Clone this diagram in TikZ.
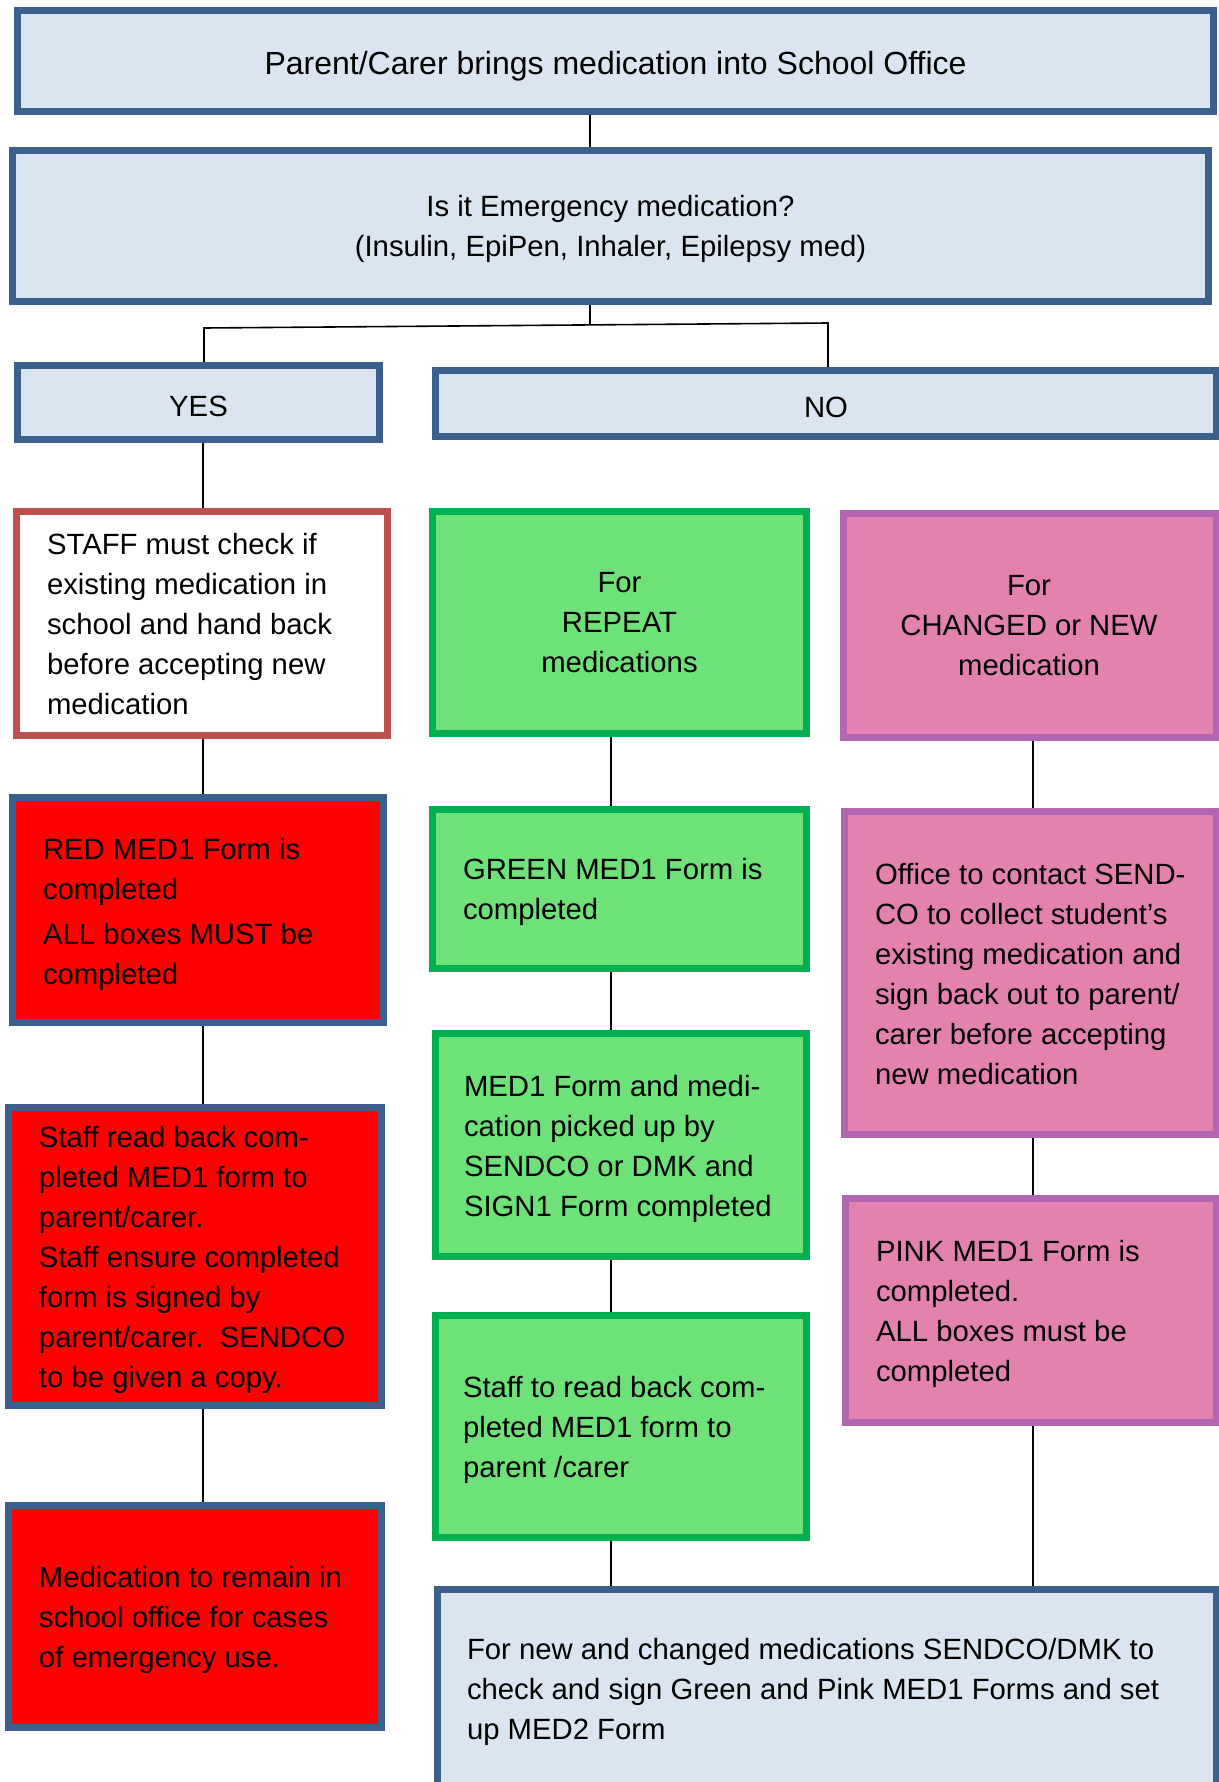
\documentclass[tikz,border=0pt]{standalone}
\usepackage{fontspec}
\setmainfont{Liberation Sans}
\usetikzlibrary{backgrounds}
\definecolor{bbord}{HTML}{3C608E}
\definecolor{bfill}{HTML}{DBE5F1}
\definecolor{gbord}{HTML}{00B050}
\definecolor{gfill}{HTML}{6EE278}
\definecolor{pbord}{HTML}{B266B2}
\definecolor{pfill}{HTML}{E482AF}
\definecolor{rbord}{HTML}{C0504D}
\definecolor{rfill}{HTML}{FF0000}
\begin{document}
\begin{tikzpicture}[x=0.5pt,y=-0.5pt,
  bx/.style={draw, line width=3.5pt, inner sep=0pt, outer sep=0pt},
  bluebox/.style={bx, draw=bbord, fill=bfill},
  greenbox/.style={bx, draw=gbord, fill=gfill},
  pinkbox/.style={bx, draw=pbord, fill=pfill},
  redbox/.style={bx, draw=bbord, fill=rfill},
  staffbox/.style={bx, draw=rbord, fill=white},
  tx/.style={inner sep=0pt, outer sep=0pt, text=black, yshift=-3pt, font=\fontsize{14.65pt}{20pt}\selectfont,
    execute at begin node=\strut, execute at end node=\strut},
  txl/.style={tx, align=left, anchor=west},
  txc/.style={tx, align=center},
  conn/.style={draw=black, line width=0.8pt}]
\path[use as bounding box] (0,0) rectangle (1219,1782);
\clip (0,0) rectangle (1219,1782);

% boxes
\node[bluebox, minimum width=598pt, minimum height=50.5pt] (b1) at (615.5,61) {};
\node[bluebox, minimum width=598pt, minimum height=75.5pt] (b2) at (610.5,226) {};
\node[bluebox, minimum width=181pt, minimum height=37pt] (yes) at (198.5,402.5) {};
\node[bluebox, minimum width=390.5pt, minimum height=33pt] (no) at (826,403.5) {};
\node[staffbox, minimum width=185.5pt, minimum height=112pt] (staff) at (202,623.5) {};
\node[greenbox, minimum width=187pt, minimum height=111pt] (rep) at (619.5,622.5) {};
\node[pinkbox, minimum width=186.5pt, minimum height=112pt] (chg) at (1030,625.5) {};
\node[redbox, minimum width=185.5pt, minimum height=112.5pt] (red1) at (198,910) {};
\node[greenbox, minimum width=187pt, minimum height=79.5pt] (grn) at (619.5,889) {};
\node[pinkbox, minimum width=186pt, minimum height=161.5pt] (off) at (1030.5,973) {};
\node[redbox, minimum width=186.5pt, minimum height=149pt] (red2) at (195,1256.5) {};
\node[greenbox, minimum width=185.5pt, minimum height=111.5pt] (pick) at (621,1145) {};
\node[pinkbox, minimum width=185.5pt, minimum height=112pt] (pink) at (1031,1310.5) {};
\node[redbox, minimum width=186.5pt, minimum height=111pt] (red3) at (195,1616.5) {};
\node[greenbox, minimum width=185.5pt, minimum height=111pt] (sread) at (621,1426.5) {};
\node[bluebox, minimum width=389.5pt, minimum height=99.5pt] (bot) at (827,1689) {};

% texts
\node[txc, font=\fontsize{16pt}{20pt}\selectfont] (b1t) at (b1) {Parent/Carer brings medication into School Office};
\node[txc] (b2t) at (b2) {Is it Emergency medication?\\(Insulin, EpiPen, Inhaler, Epilepsy med)};
\node[txc] (yest) at (yes) {YES};
\node[txc] (not) at (no) {NO};
\node[txl] (stafft) at (47,623.5) {STAFF must check if\\existing medication in\\school and hand back\\before accepting new\\medication};
\node[txc] (rept) at (rep) {For\\REPEAT\\medications};
\node[txc] (chgt) at (1029,625.5) {For\\CHANGED or NEW\\medication};
\node[txl] (red1t) at (43,911) {RED MED1 Form is\\completed\\[2.5pt]ALL boxes MUST be\\completed};
\node[txl] (grnt) at (463,889) {GREEN MED1 Form is\\completed};
\node[txl] (offt) at (875,974) {Office to contact SEND-\\CO to collect student’s\\existing medication and\\sign back out to parent/\\carer before accepting\\new medication};
\node[txl] (red2t) at (39,1257) {Staff read back com-\\pleted MED1 form to\\parent/carer.\\Staff ensure completed\\form is signed by\\parent/carer.\ \ SENDCO\\to be given a copy.};
\node[txl] (pickt) at (464,1146) {MED1 Form and medi-\\cation picked up by\\SENDCO or DMK and\\SIGN1 Form completed};
\node[txl] (pinkt) at (876,1311) {PINK MED1 Form is\\completed.\\ALL boxes must be\\completed};
\node[txl] (red3t) at (39,1617) {Medication to remain in\\school office for cases\\of emergency use.};
\node[txl] (sreadt) at (463,1427) {Staff to read back com-\\pleted MED1 form to\\parent /carer};
\node[txl] (bott) at (467,1689) {For new and changed medications SENDCO/DMK to\\check and sign Green and Pink MED1 Forms and set\\up MED2 Form};

% connectors
\coordinate (ca) at (590,0);
\coordinate (jm) at (590,325);
\coordinate (jl) at (204,328);
\coordinate (jr) at (828,323);
\coordinate (c1) at (203,0);
\coordinate (c2) at (611,0);
\coordinate (c3) at (1033,0);
\begin{scope}[on background layer]
\fill[white] (0,0) rectangle (1219,1782);
\draw[conn] (b1.south -| ca) -- (b2.north -| ca);
\draw[conn] (b2.south -| jm) -- (jm);
\draw[conn] (yes.north -| jl) -- (jl) -- (jr) -- (no.north -| jr);
\draw[conn] (yes.south -| c1) -- (staff.north -| c1);
\draw[conn] (staff.south -| c1) -- (red1.north -| c1);
\draw[conn] (red1.south -| c1) -- (red2.north -| c1);
\draw[conn] (red2.south -| c1) -- (red3.north -| c1);
\draw[conn] (rep.south -| c2) -- (grn.north -| c2);
\draw[conn] (grn.south -| c2) -- (pick.north -| c2);
\draw[conn] (pick.south -| c2) -- (sread.north -| c2);
\draw[conn] (sread.south -| c2) -- (bot.north -| c2);
\draw[conn] (chg.south -| c3) -- (off.north -| c3);
\draw[conn] (off.south -| c3) -- (pink.north -| c3);
\draw[conn] (pink.south -| c3) -- (bot.north -| c3);
\end{scope}
\end{tikzpicture}
\end{document}
